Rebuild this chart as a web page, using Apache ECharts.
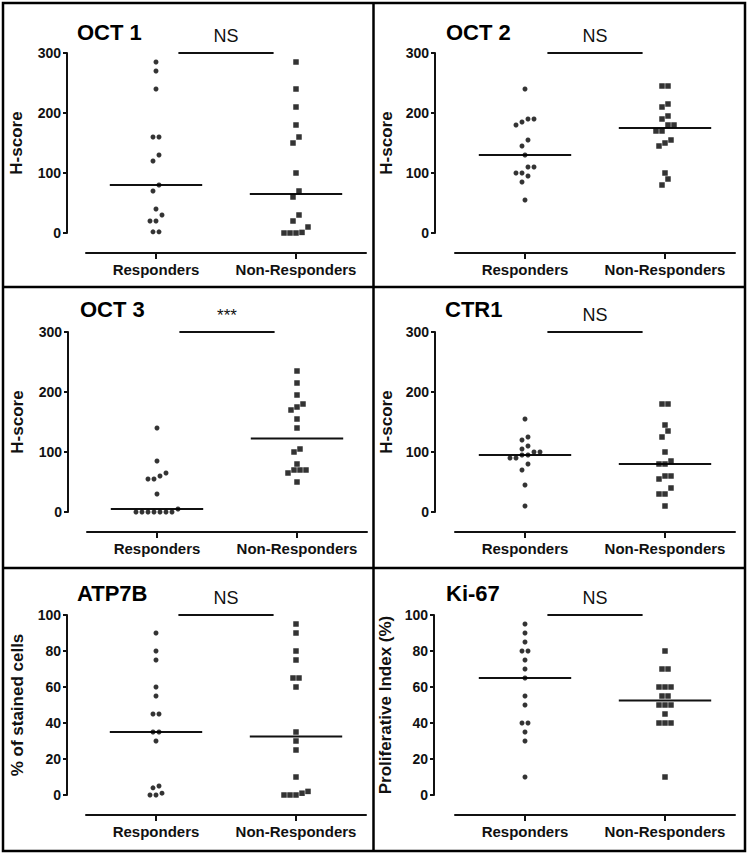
<!DOCTYPE html>
<html>
<head>
<meta charset="utf-8">
<script src="https://cdn.jsdelivr.net/npm/echarts@6/dist/echarts.min.js"></script>
<style>
html,body{margin:0;padding:0;background:#fff;}
#chart{width:750px;height:855px;}
</style>
</head>
<body>
<div id="chart"></div>
<script>
// ---------- data ----------
const categories = ['Responders', 'Non-Responders'];
const panelTitles = ['OCT 1', 'OCT 2', 'OCT 3', 'CTR1', 'ATP7B', 'Ki-67'];
const significance = ['NS', 'NS', '***', 'NS', 'NS', 'NS'];
const yAxisNames = ['H-score', 'H-score', 'H-score', 'H-score', '% of stained cells', 'Proliferative Index (%)'];
const yMaxValues = [300, 300, 300, 300, 100, 100];
const yTickSteps = [100, 100, 100, 100, 20, 20];

const oct1Responders = [285, 270, 240, 160, 160, 130, 120, 80, 70, 40, 30, 20, 20, 2, 2];
const oct1NonResponders = [285, 240, 210, 180, 160, 150, 100, 70, 60, 30, 20, 10, 0, 0, 0, 1];
const oct2Responders = [240, 190, 190, 185, 180, 155, 145, 130, 110, 110, 100, 100, 95, 85, 55];
const oct2NonResponders = [245, 245, 215, 210, 195, 190, 180, 180, 170, 170, 155, 150, 145, 100, 90, 80];
const oct3Responders = [140, 85, 65, 60, 55, 55, 30, 5, 0, 0, 0, 0, 0, 0, 0];
const oct3NonResponders = [235, 215, 195, 180, 175, 170, 155, 140, 105, 100, 80, 70, 70, 70, 65, 50];
const ctr1Responders = [155, 125, 120, 110, 105, 100, 100, 95, 95, 90, 90, 80, 70, 45, 10];
const ctr1NonResponders = [180, 180, 145, 135, 125, 100, 85, 80, 80, 60, 60, 55, 40, 30, 30, 10];
const atp7bResponders = [90, 80, 75, 60, 55, 45, 45, 35, 35, 30, 5, 4, 1, 0, 0];
const atp7bNonResponders = [95, 90, 80, 75, 65, 65, 60, 35, 30, 25, 10, 2, 1, 0, 0, 0];
const ki67Responders = [95, 90, 85, 80, 80, 75, 70, 65, 55, 50, 40, 40, 35, 30, 10];
const ki67NonResponders = [80, 70, 70, 60, 60, 60, 55, 55, 50, 50, 50, 45, 40, 40, 40, 10];

const respondersByPanel = [oct1Responders, oct2Responders, oct3Responders, ctr1Responders, atp7bResponders, ki67Responders];
const nonRespondersByPanel = [oct1NonResponders, oct2NonResponders, oct3NonResponders, ctr1NonResponders, atp7bNonResponders, ki67NonResponders];

// ---------- layout ----------
const FONT = '"Liberation Sans", Arial, Helvetica, sans-serif';
const panels = [
  {left: 86, top: 53, height: 180, yOff: 19, titleX: 77, titleY: 32, nameGap: 42},
  {left: 455, top: 53, height: 180, yOff: 20, titleX: 446, titleY: 32, nameGap: 40},
  {left: 87, top: 332, height: 180, yOff: 19, titleX: 80, titleY: 309, nameGap: 42},
  {left: 455, top: 332, height: 180, yOff: 20, titleX: 445, titleY: 309, nameGap: 40},
  {left: 86, top: 615, height: 180, yOff: 19, titleX: 77, titleY: 593, nameGap: 41},
  {left: 455, top: 615, height: 180, yOff: 21, titleX: 446, titleY: 593, nameGap: 40}
];
const GRID_W = 280;
const PX_PER_X = GRID_W / 2;
const DOT_SPACING = 6;
const ROW_THRESHOLD = 6.5;
const MEDIAN_HALF = 0.33;
const BRACKET_INSET = 0.16;

function median(arr) {
  const s = arr.slice().sort((a, b) => a - b);
  const n = s.length;
  return n % 2 ? s[(n - 1) / 2] : (s[n / 2 - 1] + s[n / 2]) / 2;
}

// GraphPad-like column scatter: near-tied values spread side by side
function swarm(values, center, pxPerY) {
  const s = values.slice().sort((a, b) => a - b);
  const out = [];
  let i = 0;
  while (i < s.length) {
    let j = i;
    while (j < s.length && (s[j] - s[i]) * pxPerY < ROW_THRESHOLD) j++;
    const n = j - i;
    for (let k = 0; k < n; k++) {
      out.push([center + (k - (n - 1) / 2) * DOT_SPACING / PX_PER_X, s[i + k]]);
    }
    i = j;
  }
  return out;
}

const grid = [], xAxis = [], yAxis = [], series = [], graphic = [];

panels.forEach((p, idx) => {
  const yMax = yMaxValues[idx];
  const pxPerY = p.height / yMax;
  grid.push({left: p.left, top: p.top, width: GRID_W, height: p.height, containLabel: false});
  // visible category axis (detached baseline below the y range)
  xAxis.push({
    type: 'category', gridIndex: idx, data: categories, boundaryGap: true,
    offset: 20, position: 'bottom',
    axisLine: {show: true, onZero: false, lineStyle: {color: '#111', width: 2}},
    axisTick: {show: true, alignWithLabel: true, length: 6, lineStyle: {color: '#111', width: 2}},
    axisLabel: {show: true, interval: 0, margin: 9, color: '#111', fontFamily: FONT, fontWeight: 'bold', fontSize: 15},
    splitLine: {show: false}
  });
  // hidden value axis for positioning points
  xAxis.push({
    type: 'value', gridIndex: idx, min: 0.5, max: 2.5, show: false,
    axisLine: {onZero: false}
  });
  yAxis.push({
    type: 'value', gridIndex: idx, min: 0, max: yMax, interval: yTickSteps[idx],
    offset: p.yOff,
    name: yAxisNames[idx], nameLocation: 'middle', nameRotate: 90, nameGap: p.nameGap,
    nameTextStyle: {color: '#111', fontFamily: FONT, fontWeight: 'bold', fontSize: 17},
    axisLine: {show: true, onZero: false, lineStyle: {color: '#111', width: 2}},
    axisTick: {show: true, length: 4, lineStyle: {color: '#111', width: 2}},
    axisLabel: {color: '#111', fontFamily: FONT, fontWeight: 'bold', fontSize: 14, margin: 6},
    splitLine: {show: false}
  });
  const vx = idx * 2 + 1;
  const resp = respondersByPanel[idx];
  const nonResp = nonRespondersByPanel[idx];
  series.push({
    type: 'scatter', xAxisIndex: vx, yAxisIndex: idx, symbol: 'circle', symbolSize: 5,
    itemStyle: {color: '#000'}, data: swarm(resp, 1, pxPerY), z: 3
  });
  series.push({
    type: 'scatter', xAxisIndex: vx, yAxisIndex: idx, symbol: 'rect', symbolSize: 5.5,
    itemStyle: {color: '#000'}, data: swarm(nonResp, 2, pxPerY), z: 3
  });
  [resp, nonResp].forEach((arr, g) => {
    const m = median(arr);
    const c = g + 1;
    series.push({
      type: 'line', xAxisIndex: vx, yAxisIndex: idx, symbol: 'none',
      lineStyle: {color: '#111', width: 2}, data: [[c - MEDIAN_HALF, m], [c + MEDIAN_HALF, m]], z: 2
    });
  });
  // significance bracket at top of the axis
  series.push({
    type: 'line', xAxisIndex: vx, yAxisIndex: idx, symbol: 'none',
    lineStyle: {color: '#111', width: 2},
    data: [[1 + BRACKET_INSET, yMax], [2 - BRACKET_INSET, yMax]], z: 2
  });
  graphic.push({
    type: 'text', x: p.left + GRID_W / 2, y: p.top - 8,
    style: {text: significance[idx], fill: '#111', font: (significance[idx] === '***' ? 'normal 17px ' : 'normal 18px ') + FONT,
      textAlign: 'center', textVerticalAlign: 'bottom'}
  });
  graphic.push({
    type: 'text', x: p.titleX, y: p.titleY,
    style: {text: panelTitles[idx], fill: '#000', font: 'bold 22px ' + FONT, textAlign: 'left', textVerticalAlign: 'middle'}
  });
});

// panel borders
graphic.push({type: 'rect', shape: {x: 3, y: 3, width: 742, height: 848}, style: {fill: 'none', stroke: '#000', lineWidth: 2.5}, z: 10});
graphic.push({type: 'line', shape: {x1: 373.5, y1: 3, x2: 373.5, y2: 851}, style: {stroke: '#000', lineWidth: 2.5}, z: 10});
graphic.push({type: 'line', shape: {x1: 3, y1: 287, x2: 745, y2: 287}, style: {stroke: '#000', lineWidth: 2.5}, z: 10});
graphic.push({type: 'line', shape: {x1: 3, y1: 568, x2: 745, y2: 568}, style: {stroke: '#000', lineWidth: 2.5}, z: 10});

const chart = echarts.init(document.getElementById('chart'), null, {renderer: 'svg'});
chart.setOption({
  animation: false,
  backgroundColor: '#fff',
  grid, xAxis, yAxis, series, graphic
});
</script>
</body>
</html>
